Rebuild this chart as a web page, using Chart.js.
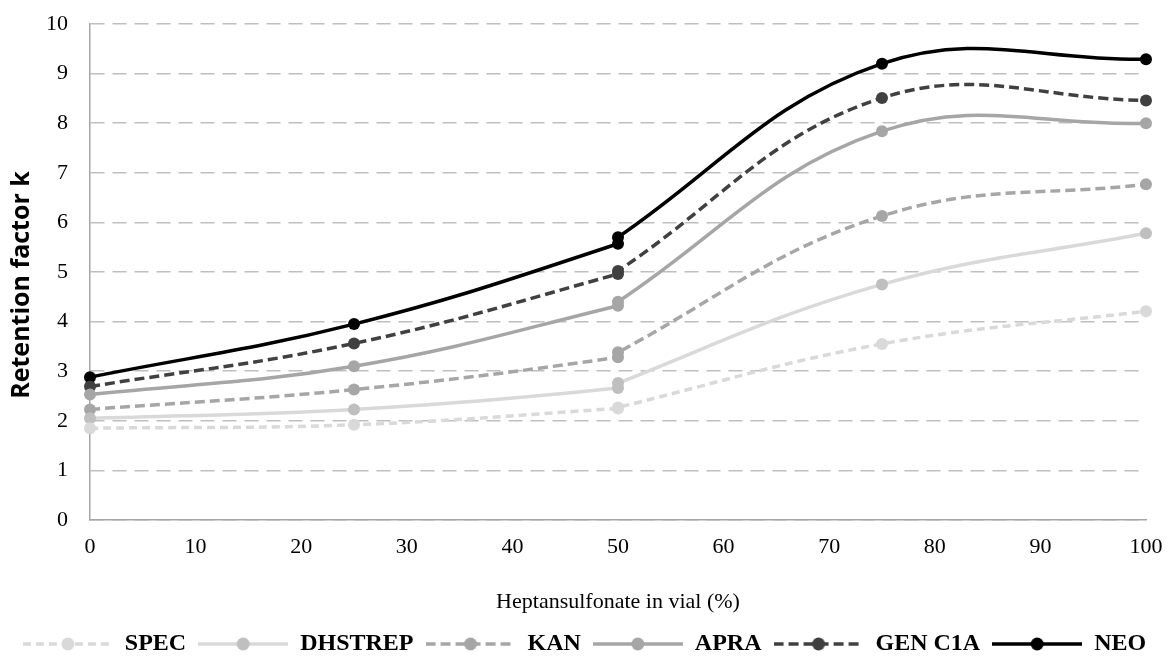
<!DOCTYPE html>
<html>
	<head>
		<title>Retention factor k</title>
		<script src="https://cdn.jsdelivr.net/npm/chart.js@4.4.0/dist/chart.umd.min.js"></script>
		<style>
			html, body { margin: 0; padding: 0; background: #fff; }
			#wrap { width: 1169px; height: 666px; }
		</style>
	</head>
	<body>
		<div id="wrap"><canvas id="myChart" width="1169" height="666"></canvas></div>
		<script>
			const heptan = [0, 25, 50, 50, 75, 100]
			const spec = [1.85, 1.92, 2.25, 2.27, 3.55, 4.21]
			const dhstrep = [2.05, 2.23, 2.66, 2.76, 4.75, 5.78]
			const kan = [2.23, 2.63, 3.28, 3.38, 6.13, 6.77]
			const apra = [2.53, 3.10, 4.32, 4.40, 7.84, 8.00]
			const gen = [2.69, 3.56, 4.96, 5.02, 8.51, 8.46]
			const neo = [2.88, 3.95, 5.57, 5.70, 9.20, 9.29]
			const seriesNames = ['SPEC', 'DHSTREP', 'KAN', 'APRA', 'GEN C1A', 'NEO']
			const xTicks = [0, 10, 20, 30, 40, 50, 60, 70, 80, 90, 100]
			const yTicks = [0, 1, 2, 3, 4, 5, 6, 7, 8, 9, 10]

			// wygląd serii
			const styles = [
				{ line: '#d9d9d9', point: '#d9d9d9', dash: [8, 5] },
				{ line: '#d9d9d9', point: '#bfbfbf', dash: [] },
				{ line: '#a6a6a6', point: '#a6a6a6', dash: [10, 5] },
				{ line: '#a6a6a6', point: '#a6a6a6', dash: [] },
				{ line: '#404040', point: '#404040', dash: [10, 5] },
				{ line: '#000000', point: '#000000', dash: [] }
			]
			const values = [spec, dhstrep, kan, apra, gen, neo]

			// ikonka legendy: linia + kropka
			const iconW = 90
			function legendIcon (s) {
				const c = document.createElement('canvas')
				c.width = iconW
				c.height = 16
				const g = c.getContext('2d')
				g.strokeStyle = s.line
				g.lineWidth = 3.5
				g.setLineDash(s.dash)
				g.beginPath()
				g.moveTo(0, 8)
				g.lineTo(iconW, 8)
				g.stroke()
				g.fillStyle = s.point
				g.beginPath()
				g.arc(iconW / 2, 8, 6.5, 0, Math.PI * 2)
				g.fill()
				return c
			}
			const icons = styles.map(legendIcon)

			const datasets = seriesNames.map((name, i) => ({
				label: name,
				data: heptan.map((x, j) => ({ x: x, y: values[i][j] })),
				showLine: true,
				clip: false,
				borderColor: styles[i].line,
				borderDash: styles[i].dash,
				borderWidth: 3.5,
				backgroundColor: styles[i].point,
				pointBackgroundColor: styles[i].point,
				pointBorderColor: styles[i].point,
				pointRadius: 6,
				pointBorderWidth: 0,
				tension: 0.4
			}))

			const ctx = document.getElementById('myChart').getContext('2d')
			const chart = new Chart(ctx, {
				type: 'scatter',
				data: { datasets: datasets },
				options: {
					responsive: false,
					animation: false,
					layout: { padding: { top: 24, right: 0, left: 0, bottom: 0 } },
					plugins: {
						tooltip: { enabled: false },
						legend: {
							position: 'bottom',
							labels: {
								usePointStyle: true,
								pointStyleWidth: iconW,
								padding: 12,
								color: '#000',
								font: { family: '"Liberation Serif"', size: 24, weight: 'bold' },
								generateLabels: (ch) => seriesNames.map((name, i) => ({
									text: name,
									pointStyle: icons[i],
									fillStyle: styles[i].point,
									strokeStyle: styles[i].line,
									lineWidth: 0,
									datasetIndex: i,
									fontColor: '#000'
								}))
							}
						}
					},
					scales: {
						x: {
							type: 'linear',
							min: 0,
							max: 100,
							afterBuildTicks: (s) => { s.ticks = xTicks.map(v => ({ value: v })) },
							grid: { display: false, drawTicks: false },
							border: { color: '#a6a6a6', width: 1.5 },
							ticks: {
								padding: 14,
								color: '#000',
								font: { family: '"Liberation Serif"', size: 22 }
							},
							title: {
								display: true,
								text: 'Heptansulfonate in vial (%)',
								color: '#000',
								font: { family: '"Liberation Serif"', size: 22 },
								padding: { top: 0, bottom: 5 }
							},
							afterFit: (s) => {
								s.height = 100
								s.paddingLeft = 0
								s.paddingRight = 23
							}
						},
						y: {
							min: 0,
							max: 10,
							afterBuildTicks: (s) => { s.ticks = yTicks.map(v => ({ value: v })) },
							grid: {
								color: '#bfbfbf',
								lineWidth: 1.5,
								drawTicks: false
							},
							// w Chart.js v4 border.dash steruje przerywaniem linii siatki
							border: { color: '#a6a6a6', width: 1.5, dash: [14, 8] },
							ticks: {
								padding: 22,
								color: '#000',
								font: { family: '"Liberation Serif"', size: 22 }
							},
							title: {
								display: true,
								text: 'Retention factor k    ',
								color: '#000',
								font: { family: '"Open Sans"', size: 25, weight: 'bold' },
								padding: { top: 7, bottom: 0 }
							},
							afterFit: (s) => {
								s.width = 90
								s.paddingTop = 0
								s.paddingBottom = 0
							}
						}
					}
				}
			})
		</script>
	</body>
</html>
